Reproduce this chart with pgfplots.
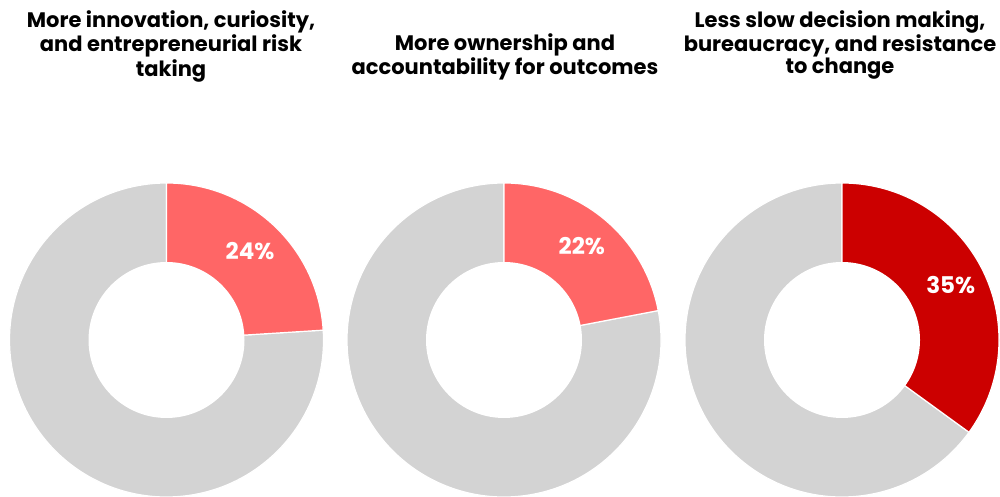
\documentclass[border=0pt]{standalone}
\usepackage{pgfplots}
\pgfplotsset{compat=1.18}
\usepackage{pgfplotstable}
\usepackage{fontspec}
\setmainfont{Poppins}
\usetikzlibrary{calc}
\definecolor{lightred}{HTML}{FF6666}
\definecolor{darkred}{HTML}{CC0000}
\definecolor{ringgray}{HTML}{D3D3D3}

\pgfplotstableread{
cx    pct
166.5 24
504   22
842   35
}\donutdata

% #1 centre x (axis units), #2 share in percent, #3 colour
\newcommand\donut[3]{%
  \filldraw[fill=ringgray, draw=white, line width=0.6pt] (axis cs:#1,157) -- ++({90-3.6*#2}:78.5pt) arc[start angle={90-3.6*#2}, end angle=-270, radius=78.5pt] -- cycle;
  \filldraw[fill=#3, draw=white, line width=0.6pt] (axis cs:#1,157) -- ++(90:78.5pt) arc[start angle=90, end angle={90-3.6*#2}, radius=78.5pt] -- cycle;
  \fill[white] (axis cs:#1,157) circle[radius=39pt];
  \node[text=white, inner sep=0, font=\bfseries\fontsize{11.5}{13}\selectfont] at ($(axis cs:#1,157)+({90-1.8*#2}:61pt)$) {#2\%};
}

\begin{document}
\begin{tikzpicture}
\pgfplotstablegetelem{0}{cx}\of\donutdata \edef\cA{\pgfplotsretval}
\pgfplotstablegetelem{1}{cx}\of\donutdata \edef\cB{\pgfplotsretval}
\pgfplotstablegetelem{2}{cx}\of\donutdata \edef\cC{\pgfplotsretval}
\pgfplotstablegetelem{0}{pct}\of\donutdata \edef\pA{\pgfplotsretval}
\pgfplotstablegetelem{1}{pct}\of\donutdata \edef\pB{\pgfplotsretval}
\pgfplotstablegetelem{2}{pct}\of\donutdata \edef\pC{\pgfplotsretval}
\path[use as bounding box] (0,0) rectangle (500pt,248.5pt);
\begin{axis}[
  at={(0,0)}, anchor=south west,
  x=0.5pt, y=0.5pt, scale only axis,
  xmin=0, xmax=1000, ymin=0, ymax=497,
  hide axis, clip=true,
]
\donut{\cA}{\pA}{lightred}
\donut{\cB}{\pB}{lightred}
\donut{\cC}{\pC}{darkred}
\node[align=center, anchor=north, inner sep=0, font=\bfseries\fontsize{10.5}{10.8}\selectfont]
  at (axis cs:171,487) {More innovation, curiosity,\\and entrepreneurial risk\\taking};
\node[align=center, anchor=north, inner sep=0, font=\bfseries\fontsize{10.5}{10.8}\selectfont]
  at (axis cs:505,464) {More ownership and\\accountability for outcomes};
\node[align=center, anchor=north, inner sep=0, font=\bfseries\fontsize{10.5}{10.8}\selectfont]
  at (axis cs:840,487) {Less slow decision making,\\bureaucracy, and resistance\\to change};
\end{axis}
\end{tikzpicture}
\end{document}
